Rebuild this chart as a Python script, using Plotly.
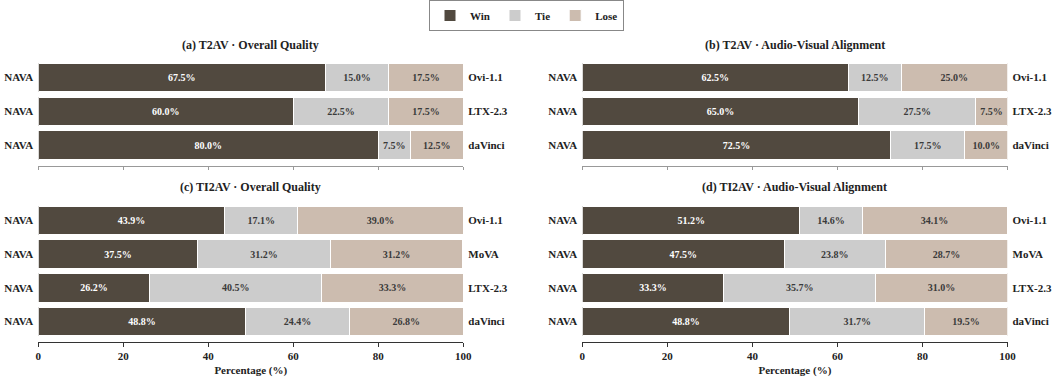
import plotly.graph_objects as go

# ---------------- data ----------------
panel_titles = [
    "(a) T2AV · Overall Quality",
    "(b) T2AV · Audio-Visual Alignment",
    "(c) TI2AV · Overall Quality",
    "(d) TI2AV · Audio-Visual Alignment",
]
ours = "NAVA"
opponents_t2av = ["Ovi-1.1", "LTX-2.3", "daVinci"]
opponents_ti2av = ["Ovi-1.1", "MoVA", "LTX-2.3", "daVinci"]

a_win = [67.5, 60.0, 80.0]
a_tie = [15.0, 22.5, 7.5]
a_lose = [17.5, 17.5, 12.5]

b_win = [62.5, 65.0, 72.5]
b_tie = [12.5, 27.5, 17.5]
b_lose = [25.0, 7.5, 10.0]

c_win = [43.9, 37.5, 26.2, 48.8]
c_tie = [17.1, 31.2, 40.5, 24.4]
c_lose = [39.0, 31.2, 33.3, 26.8]

d_win = [51.2, 47.5, 33.3, 48.8]
d_tie = [14.6, 23.8, 35.7, 31.7]
d_lose = [34.1, 28.7, 31.0, 19.5]

x_ticks = [0, 20, 40, 60, 80, 100]
x_label = "Percentage (%)"
series_names = ["Win", "Tie", "Lose"]

# ---------------- style ----------------
FONT = "Liberation Serif"
colors = {"Win": "#51493f", "Tie": "#cccccc", "Lose": "#ccbcaf"}
text_colors = {"Win": "#ffffff", "Tie": "#3a3a3a", "Lose": "#3a3a3a"}

W, H = 1053, 381
def py(px):
    return 1 - px / H

x_domains = [[38.3 / W, 463.3 / W], [582.3 / W, 1007.5 / W]]
y_domains = [[py(165.5), py(60.7)], [py(341.5), py(203.7)]]

panels = [
    (panel_titles[0], opponents_t2av, [a_win, a_tie, a_lose], 0, 0),
    (panel_titles[1], opponents_t2av, [b_win, b_tie, b_lose], 1, 0),
    (panel_titles[2], opponents_ti2av, [c_win, c_tie, c_lose], 0, 1),
    (panel_titles[3], opponents_ti2av, [d_win, d_tie, d_lose], 1, 1),
]

fig = go.Figure()
layout = dict(
    width=W, height=H,
    margin=dict(l=0, r=0, t=0, b=0),
    paper_bgcolor="white", plot_bgcolor="white",
    font=dict(family=FONT, size=11, color="#222222", weight="bold"),
    barmode="stack",
    showlegend=True,
    legend=dict(
        orientation="h", x=0.5, xanchor="center", y=1.0, yanchor="top",
        bordercolor="#888888", borderwidth=1, bgcolor="white",
        font=dict(family=FONT, size=11, weight="bold"),
        itemwidth=30, traceorder="normal",
    ),
    annotations=[],
)

for k, (title, opps, vals, col, row) in enumerate(panels):
    idx = k + 1
    xa = "x" if idx == 1 else f"x{idx}"
    ya = "y" if idx == 1 else f"y{idx}"
    ya_r_num = idx + 4
    ya_r = f"y{ya_r_num}"
    n = len(opps)
    ypos = list(range(n))
    for s, name in enumerate(series_names):
        fig.add_trace(go.Bar(
            x=vals[s], y=ypos, orientation="h", name=name,
            xaxis=xa, yaxis=ya, width=0.85,
            marker=dict(color=colors[name], line=dict(color="white", width=1)),
            text=[f"{v:.1f}%" for v in vals[s]],
            textposition="inside", insidetextanchor="middle",
            textangle=0,
            textfont=dict(family=FONT, size=10, color=text_colors[name], weight="bold"),
            constraintext="none",
            showlegend=(k == 0), legendgroup=name,
            hoverinfo="skip",
        ))
    fig.add_trace(go.Scatter(
        x=[None], y=[None], xaxis=xa, yaxis=ya_r, showlegend=False, hoverinfo="skip",
    ))
    yr = [n - 1 + 0.6, -0.5]
    bottom = row == 1
    layout["xaxis" if idx == 1 else f"xaxis{idx}"] = dict(
        domain=x_domains[col], range=[0, 100], anchor=ya, automargin=False,
        tickvals=x_ticks, showticklabels=bottom,
        ticks="outside", ticklen=4 if bottom else 3, tickwidth=1,
        tickcolor="#333333" if bottom else "#999999",
        showline=True, linecolor="#333333" if bottom else "#999999", linewidth=1,
        showgrid=False, zeroline=False,
        tickfont=dict(family=FONT, size=11, color="#222222", weight="bold"),
        title=dict(text=x_label if bottom else "", standoff=5,
                   font=dict(family=FONT, size=11, color="#222222", weight="bold")),
    )
    layout["yaxis" if idx == 1 else f"yaxis{idx}"] = dict(
        domain=y_domains[row], range=yr, anchor=xa, automargin=False,
        tickvals=ypos, ticktext=[ours] * n,
        showline=False, showgrid=False, zeroline=False, ticks="",
        ticklabelstandoff=4,
        tickfont=dict(family=FONT, size=11, color="#222222", weight="bold"),
    )
    layout[f"yaxis{ya_r_num}"] = dict(
        overlaying=ya, side="right", anchor=xa, range=yr, automargin=False,
        tickvals=ypos, ticktext=opps,
        showline=False, showgrid=False, zeroline=False, ticks="",
        ticklabelstandoff=4,
        tickfont=dict(family=FONT, size=11, color="#222222", weight="bold"),
    )
    layout["annotations"].append(dict(
        text=title, xref="paper", yref="paper",
        x=(x_domains[col][0] + x_domains[col][1]) / 2,
        y=py(45) if row == 0 else py(187),
        xanchor="center", yanchor="middle", showarrow=False,
        font=dict(family=FONT, size=12, color="#222222", weight="bold"),
    ))

fig.update_layout(**layout)
fig.write_html("out.html")
